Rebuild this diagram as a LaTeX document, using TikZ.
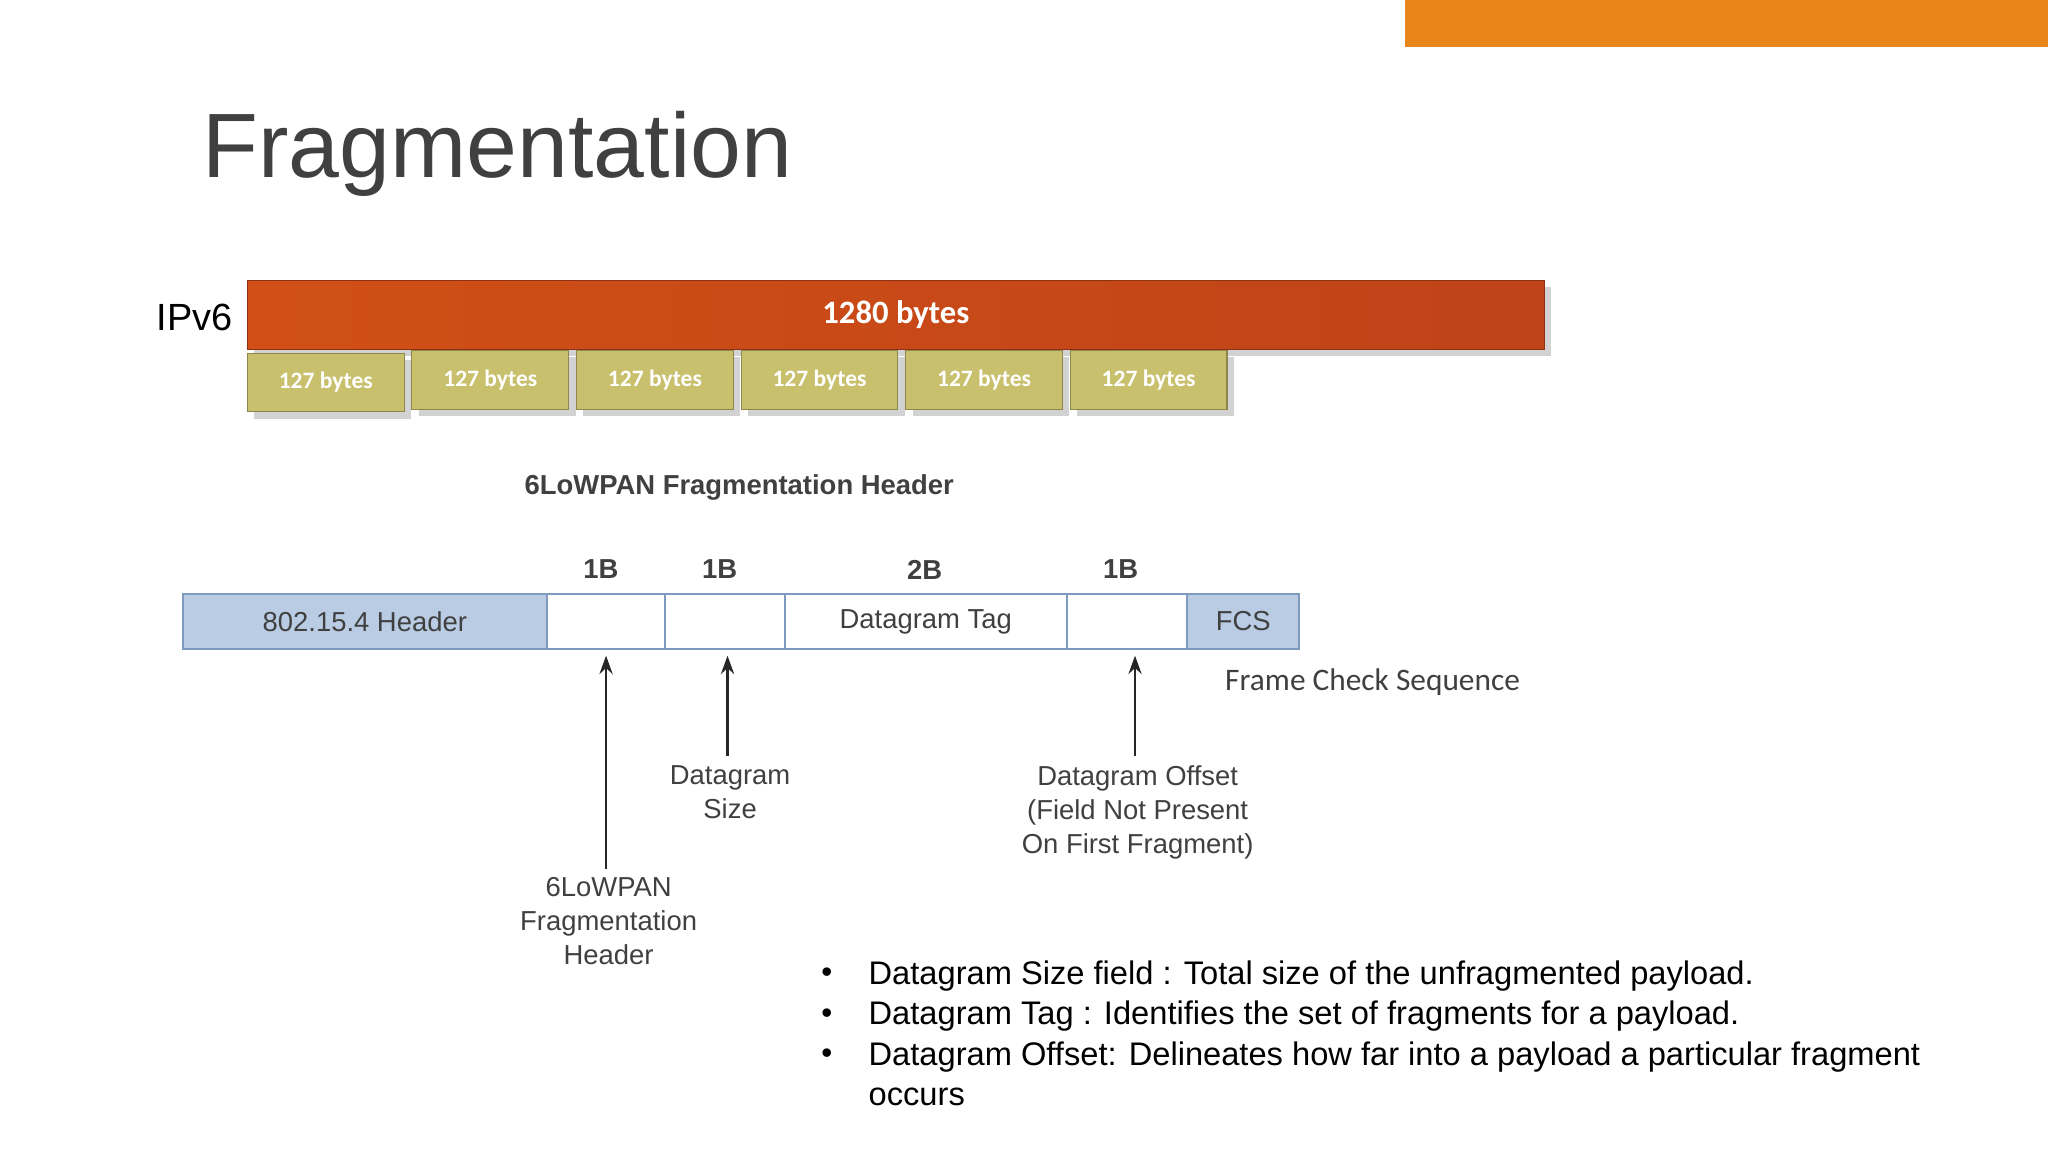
\documentclass[tikz,border=0pt]{standalone}
\usepackage{fontspec}
\setmainfont{Liberation Sans}
\newfontfamily\carl{Carlito}
\usetikzlibrary{shadows,arrows.meta}
\definecolor{orng}{HTML}{E8861A}
\definecolor{redbar}{HTML}{C9471A}
\definecolor{olive}{HTML}{C9C06E}
\definecolor{lblue}{HTML}{B9CCE4}
\definecolor{bblue}{HTML}{7E9BBF}
\definecolor{dgray}{HTML}{404040}
\tikzset{
  bigbar/.style={draw=redbar!70!black, left color=redbar!85!orange, right color=redbar!95!black, drop shadow={opacity=0.35}},
  smallbox/.style={draw=olive!70!black, fill=olive, drop shadow={opacity=0.35}, text=white, font=\carl\bfseries\fontsize{9}{10}\selectfont},
  field/.style={draw=bblue, line width=0.8pt, fill=white, text=dgray, font=\fontsize{10.5}{12}\selectfont},
  lbl/.style={text=dgray, font=\fontsize{10.5}{13}\selectfont, align=center},
  arr/.style={-{Stealth[length=7pt,width=5pt]}, line width=1.1pt, draw=black!85},
  bul/.style={anchor=west, font=\fontsize{12.5}{14}\selectfont}
}
\begin{document}
\begin{tikzpicture}[x=0.5pt,y=-0.5pt]
\useasboundingbox (0,0) rectangle (1568,882);
\fill[white] (0,0) rectangle (1568,882);
\fill[orng] (1076,0) rectangle (1568,36);
\node[anchor=west, text=dgray, font=\fontsize{35}{40}\selectfont] (title) at (148,118) {Fragmentation};
\node[anchor=east, font=\fontsize{14.5}{16}\selectfont] (ipv6) at (185,243) {IPv6};
\node[bigbar, minimum width=496.5pt, minimum height=26.5pt, anchor=north west, inner sep=0pt, text=white, font=\carl\bfseries\fontsize{12.5}{14}\selectfont] (big) at (189,214) {1280 bytes};
\foreach \i/\y in {0/270,1/268,2/268,3/268,4/268,5/268}{
  \node[smallbox, minimum width=60pt, minimum height=22.5pt, anchor=north west, inner sep=0pt] (s\i) at (189+126*\i,\y) {127 bytes};
}
\node[text=dgray, font=\bfseries\fontsize{10.5}{12}\selectfont] (hdr) at (566,373) {6LoWPAN Fragmentation Header};
\foreach \n/\x/\t in {b1/460/1B,b2/551/1B,b3/708/2B,b4/858/1B}
  \node[text=dgray, font=\bfseries\fontsize{10.5}{12}\selectfont] (\n) at (\x,436) {\t};
\node[field, fill=lblue, minimum width=139.5pt, minimum height=21pt, inner sep=0pt, anchor=north west] (f1) at (139,454) {802.15.4 Header};
\node[field, minimum width=45pt, minimum height=21pt, inner sep=0pt, anchor=north west] (f2) at (418,454) {};
\node[field, minimum width=46pt, minimum height=21pt, inner sep=0pt, anchor=north west] (f3) at (508,454) {};
\node[field, minimum width=108pt, minimum height=21pt, inner sep=0pt, anchor=north west] (f4) at (600,454) {Datagram Tag};
\node[field, minimum width=46pt, minimum height=21pt, inner sep=0pt, anchor=north west] (f5) at (816,454) {};
\node[field, fill=lblue, minimum width=43pt, minimum height=21pt, inner sep=0pt, anchor=north west] (f6) at (908,454) {FCS};
\node[anchor=west, text=dgray, font=\carl\fontsize{12}{14}\selectfont] (fcs) at (931,522) {Frame Check Sequence};
\node[lbl, anchor=north] (l1) at (466,665) {6LoWPAN\\Fragmentation\\Header};
\node[lbl, anchor=north] (l2) at (559,579) {Datagram\\Size};
\node[lbl, anchor=north] (l3) at (871,579) {Datagram Offset\\(Field Not Present\\On First Fragment)};
\coordinate (a1) at (464,502); \coordinate (a2) at (557,502); \coordinate (a3) at (869,502);
\draw[arr] (l1.north -| a1) -- (a1);
\draw[arr] (l2.north -| a2) -- (a2);
\draw[arr] (l3.north -| a3) -- (a3);
\foreach \n/\y/\t in {t1/747/{Datagram Size field : Total size of the unfragmented payload.},t2/778/{Datagram Tag : Identifies the set of fragments for a payload.},t3/809/{Datagram Offset: Delineates how far into a payload a particular fragment}}{
  \node[bul] (\n) at (658,\y) {\t};
  \node[font=\fontsize{12}{14}\selectfont] at (633,\y) {•};
}
\node[bul] (t4) at (658,840) {occurs};
\end{tikzpicture}
\end{document}
